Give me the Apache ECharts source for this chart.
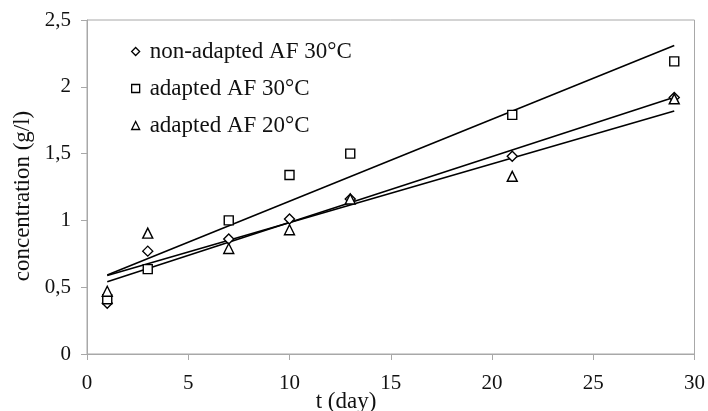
<!DOCTYPE html>
<html>
<head>
<meta charset="utf-8">
<script src="https://cdn.jsdelivr.net/npm/echarts@6/dist/echarts.min.js"></script>
<style>
  html, body { margin: 0; padding: 0; background: #fff; }
  #chart { width: 708px; height: 411px; }
</style>
</head>
<body>
<div id="chart"></div>
<script>
// Sampling days
const days = [1, 3, 7, 10, 13, 21, 29];

// Measured concentrations (g/l)
const nonAdapted30 = [0.38, 0.77, 0.86, 1.01, 1.16, 1.48, 1.92];
const adapted30 = [0.41, 0.635, 1.0, 1.34, 1.5, 1.79, 2.19];
const adapted20 = [0.47, 0.905, 0.79, 0.93, 1.16, 1.33, 1.91];

const seriesNames = ['non-adapted AF 30°C', 'adapted AF 30°C', 'adapted AF 20°C'];
const seriesSymbols = ['diamond', 'rect', 'triangle'];

const FONT = '"Liberation Serif", "Times New Roman", serif';

// Least-squares fit over the sampled range
function linearFit(xs, ys) {
  const n = xs.length;
  const mx = xs.reduce((a, b) => a + b, 0) / n;
  const my = ys.reduce((a, b) => a + b, 0) / n;
  let sxy = 0, sxx = 0;
  for (let i = 0; i < n; i++) {
    sxy += (xs[i] - mx) * (ys[i] - my);
    sxx += (xs[i] - mx) * (xs[i] - mx);
  }
  const slope = sxy / sxx;
  const icpt = my - slope * mx;
  const x0 = xs[0], x1 = xs[n - 1];
  return [[x0, icpt + slope * x0], [x1, icpt + slope * x1]];
}

const datasets = [nonAdapted30, adapted30, adapted20];

const scatterSeries = datasets.map((vals, i) => ({
  name: seriesNames[i],
  type: 'scatter',
  symbol: seriesSymbols[i],
  symbolSize: seriesSymbols[i] === 'rect' ? 9 : 10,
  data: days.map((d, j) => [d, vals[j]]),
  itemStyle: { color: '#fff', borderColor: '#000', borderWidth: 1.4, opacity: 1 },
  z: 5
}));

const trendSeries = datasets.map((vals) => ({
  type: 'line',
  data: linearFit(days, vals),
  showSymbol: false,
  symbol: 'none',
  silent: true,
  lineStyle: { color: '#000', width: 1.6 },
  z: 3
}));

const chart = echarts.init(document.getElementById('chart'), null, { renderer: 'canvas' });

chart.setOption({
  backgroundColor: '#fff',
  animation: false,
  grid: {
    left: 87, right: 12, top: 20, bottom: 57,
    show: true, borderColor: '#a8a8a8', borderWidth: 1, backgroundColor: 'transparent'
  },
  legend: {
    orient: 'vertical',
    left: 126,
    top: 35,
    itemWidth: 8,
    itemHeight: 8,
    itemGap: 14,
    data: seriesNames.map((n, i) => ({ name: n, icon: seriesSymbols[i] })),
    itemStyle: { color: '#fff', borderColor: '#000', borderWidth: 1.3 },
    textStyle: { fontFamily: FONT, fontSize: 23, color: '#111', padding: [0, 0, 0, 5] }
  },
  xAxis: {
    type: 'value',
    min: 0, max: 30, interval: 5,
    axisLine: { show: true, lineStyle: { color: '#a8a8a8', width: 1 } },
    axisTick: { show: true, inside: false, length: 6, lineStyle: { color: '#a8a8a8' } },
    splitLine: { show: false },
    axisLabel: { margin: 19, fontFamily: FONT, fontSize: 21, color: '#111' }
  },
  yAxis: {
    type: 'value',
    min: 0, max: 2.5, interval: 0.5,
    axisLine: { show: true, lineStyle: { color: '#a8a8a8', width: 1 } },
    axisTick: { show: true, inside: false, length: 6, lineStyle: { color: '#a8a8a8' } },
    splitLine: { show: false },
    axisLabel: {
      margin: 16, fontFamily: FONT, fontSize: 21, color: '#111',
      formatter: (v) => String(v).replace('.', ',')
    }
  },
  graphic: [
    {
      type: 'text',
      x: 346, y: 402,
      style: {
        text: 't (day)', font: '23px ' + FONT, fill: '#111',
        align: 'center', verticalAlign: 'middle'
      }
    },
    {
      type: 'text',
      x: 23, y: 196,
      rotation: Math.PI / 2,
      style: {
        text: 'concentration (g/l)', font: '23px ' + FONT, fill: '#111',
        align: 'center', verticalAlign: 'middle'
      }
    }
  ],
  series: [...trendSeries, ...scatterSeries]
});
</script>
</body>
</html>
